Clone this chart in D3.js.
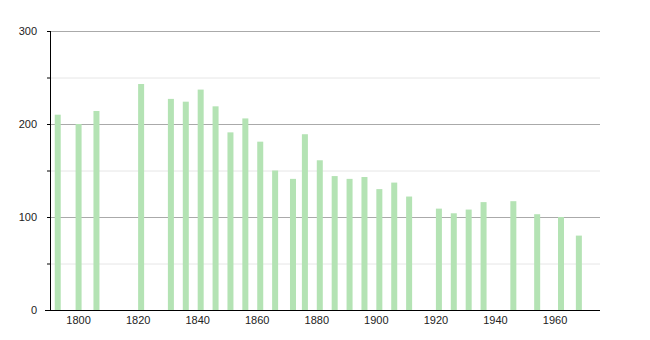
<!DOCTYPE html>
<html><head><meta charset="utf-8">
<script src="https://cdn.jsdelivr.net/npm/d3@7"></script>
<style>body{margin:0;background:#fff}svg text{font-family:"Liberation Sans",Arial,sans-serif;font-size:11px;fill:#222}</style>
</head><body><svg id="c" width="650" height="340"></svg>
<script>
const years = [1793,1800,1806,1821,1831,1836,1841,1846,1851,1856,1861,1866,1872,1876,1881,1886,1891,1896,1901,1906,1911,1921,1926,1931,1936,1946,1954,1962,1968];
const population = [210,200,214,243,227,224,237,219,191,206,181,150,141,189,161,144,141,143,130,137,122,109,104,108,116,117,103,100,80];
const yTicks = [0,100,200,300];
const yMinor = [50,150,250];
const xTicks = [1800,1820,1840,1860,1880,1900,1920,1940,1960];

const svg = d3.select("#c");
const L=50,R=600,T=31,B=310;
const x = d3.scaleLinear().domain([1790.4,1975.1]).range([L,R]);
const y = d3.scaleLinear().domain([0,300]).range([B,T]);

svg.append("g").selectAll("line").data(yMinor).join("line")
  .attr("x1",L).attr("x2",R).attr("y1",d=>y(d)+0.5).attr("y2",d=>y(d)+0.5)
  .attr("stroke","#e6e6e6");
svg.append("g").selectAll("line").data(yTicks.filter(d=>d>0)).join("line")
  .attr("x1",L).attr("x2",R).attr("y1",d=>y(d)+0.5).attr("y2",d=>y(d)+0.5)
  .attr("stroke","#aaaaaa");

svg.append("g").selectAll("rect").data(years).join("rect")
  .attr("x",(d)=>x(d)-3).attr("width",6)
  .attr("y",(d,i)=>y(population[i])).attr("height",(d,i)=>B-y(population[i]))
  .attr("fill","#b4e3b4");

// y axis
svg.append("line").attr("x1",L+0.5).attr("x2",L+0.5).attr("y1",T).attr("y2",B).attr("stroke","#000");
svg.append("g").selectAll("line").data(yTicks.concat(yMinor)).join("line")
  .attr("x1",L-3).attr("x2",L).attr("y1",d=>y(d)+0.5).attr("y2",d=>y(d)+0.5).attr("stroke","#000");
svg.append("g").selectAll("text").data(yTicks).join("text")
  .attr("x",37).attr("y",d=>y(d)+4).attr("text-anchor","end").text(d=>d);

// x axis
svg.append("line").attr("x1",45).attr("x2",R).attr("y1",B+0.5).attr("y2",B+0.5).attr("stroke","#000");
svg.append("g").selectAll("text").data(xTicks).join("text")
  .attr("x",d=>x(d)).attr("y",324).attr("text-anchor","middle").text(d=>d);
</script></body></html>
